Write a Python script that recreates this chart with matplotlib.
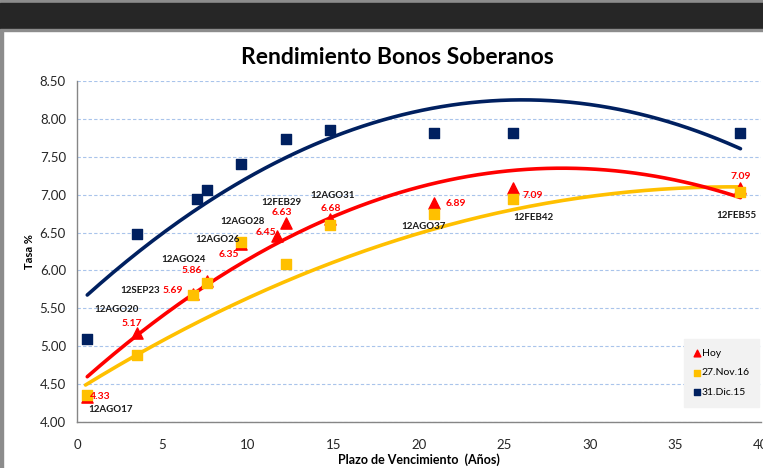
import numpy as np
import matplotlib
matplotlib.use("Agg")
from matplotlib import pyplot as plt
from matplotlib.patches import Rectangle

plt.rcParams['font.family'] = ['Lato', 'DejaVu Sans']

# plazo (años) y tasas
plazo = [0.6, 3.5, 6.8, 7.6, 9.6, 11.7, 12.2, 14.8, 20.9, 25.5, 38.8]
bonos = ['12AGO17', '12AGO20', '12SEP23', '12AGO24', '12AGO26', '12AGO28',
         '12FEB29', '12AGO31', '12AGO37', '12FEB42', '12FEB55']
hoy = [4.33, 5.17, 5.69, 5.86, 6.35, 6.45, 6.63, 6.68, 6.89, 7.09, 7.09]

plazo_nov = [0.6, 3.5, 6.8, 7.6, 9.6, 12.2, 14.8, 20.9, 25.5, 38.8]
nov16 = [4.35, 4.88, 5.67, 5.83, 6.37, 6.09, 6.60, 6.74, 6.94, 7.04]

plazo_dic = [0.6, 3.5, 7.0, 7.6, 9.6, 12.2, 14.8, 20.9, 25.5, 38.8]
dic15 = [5.09, 6.48, 6.94, 7.06, 7.40, 7.74, 7.85, 7.82, 7.82, 7.82]

# tendencia 27.Nov.16
tend_nov_x = [0.5, 3.6, 7.8, 11.7, 15.0, 20.6, 25.5, 30.4, 34.3, 38.8]
tend_nov_y = [4.50, 4.88, 5.41, 5.81, 6.08, 6.57, 6.80, 6.97, 7.07, 7.11]

# offsets de etiquetas (pixeles): nombre, valor
off_name = [(23, -13), (-20, 24), (-53, 3), (-23, 22), (-24, 4), (-35, 15),
            (-4, 20), (2, 23), (-11, -23), (20, -30), (-4, -28)]
off_val = [(13, 0), (-5, 10), (-20, 3), (-15, 11), (-12, -11), (-11, 4),
           (-4, 10), (1, 10), (21, 0), (20, -8), (0, 11)]

RED = '#ff0000'
YEL = '#ffc000'
NAVY = '#002060'

fig = plt.figure(figsize=(7.63, 4.68), dpi=100)
W, H = 763, 468

# marco y banda oscura superior
fig.patches.append(Rectangle((0, 1 - 3 / H), 1, 3 / H, transform=fig.transFigure,
                             color='#8c8c8c', zorder=0))
fig.patches.append(Rectangle((0, 1 - 29 / H), 1, 26 / H, transform=fig.transFigure,
                             color='#262626', zorder=0))
fig.patches.append(Rectangle((0, 1 - 31 / H), 1, 2 / H, transform=fig.transFigure,
                             color='#8c8c8c', zorder=0))
fig.patches.append(Rectangle((0, 0), 3 / W, 1 - 31 / H, transform=fig.transFigure,
                             color='#8c8c8c', zorder=0))

ax = fig.add_axes([77 / W, 1 - 422 / H, (761 - 77) / W, (422 - 81) / H])
ax.set_xlim(0, 40)
ax.set_ylim(4.0, 8.5)
ax.set_xticks(np.arange(0, 41, 5))
ax.set_yticks(np.arange(4.0, 8.51, 0.5))
ax.yaxis.set_major_formatter(matplotlib.ticker.FormatStrFormatter('%.2f'))
ax.tick_params(length=0, labelsize=9.5, colors='#262626', pad=8)
ax.tick_params(axis='x', pad=12)
ax.grid(axis='y', color='#a9c4eb', linestyle=(0, (3, 2)), linewidth=0.8)
ax.set_axisbelow(True)
for s in ['top', 'right']:
    ax.spines[s].set_visible(False)
for s in ['left', 'bottom']:
    ax.spines[s].set_color('#868686')
    ax.spines[s].set_linewidth(1.0)

# lineas de tendencia (polinomica grado 2)
for xs, ys, c in [(plazo_dic, dic15, NAVY), (tend_nov_x, tend_nov_y, YEL), (plazo, hoy, RED)]:
    p = np.polyfit(xs, ys, 2)
    xx = np.linspace(min(xs), max(xs), 200)
    ax.plot(xx, np.polyval(p, xx), color=c, linewidth=2.6, zorder=2,
            solid_capstyle='round')

ax.scatter(plazo_dic, dic15, marker='s', s=50, color=NAVY, zorder=3, label='31.Dic.15')
ax.scatter(plazo, hoy, marker='^', s=65, color=RED, zorder=3, label='Hoy')
ax.scatter(plazo_nov, nov16, marker='s', s=50, color=YEL, zorder=4, label='27.Nov.16')

for i in range(len(plazo)):
    ax.annotate(bonos[i], (plazo[i], hoy[i]), xytext=off_name[i], textcoords='offset pixels',
                ha='center', va='center', fontsize=7, fontweight='bold', color='#1a1a1a',
                zorder=5)
    ax.annotate('%.2f' % hoy[i], (plazo[i], hoy[i]), xytext=off_val[i],
                textcoords='offset pixels', ha='center', va='center', fontsize=7.5,
                fontweight='bold', color=RED, zorder=5)

h, l = ax.get_legend_handles_labels()
order = [1, 2, 0]
leg = ax.legend([h[i] for i in order], [l[i] for i in order], loc='lower right',
                bbox_to_anchor=(1.005, 0.03), fontsize=7.5, frameon=True, fancybox=False,
                facecolor='#f2f2f2', edgecolor='#f2f2f2', framealpha=1,
                handlelength=0.6, handletextpad=0.2, labelspacing=1.0, markerscale=0.6,
                borderpad=0.9)

ax.set_ylabel('Tasa %', fontsize=8, fontweight='bold', labelpad=3)
ax.set_xlabel('Plazo de Vencimiento  (Años)', fontsize=9, fontweight='bold', labelpad=2)
fig.text(397 / W, 1 - 57 / H, 'Rendimiento Bonos Soberanos', ha='center', va='center',
         fontsize=16.5, fontweight='bold', color='#000000')

fig.savefig('out.png', dpi=100)
